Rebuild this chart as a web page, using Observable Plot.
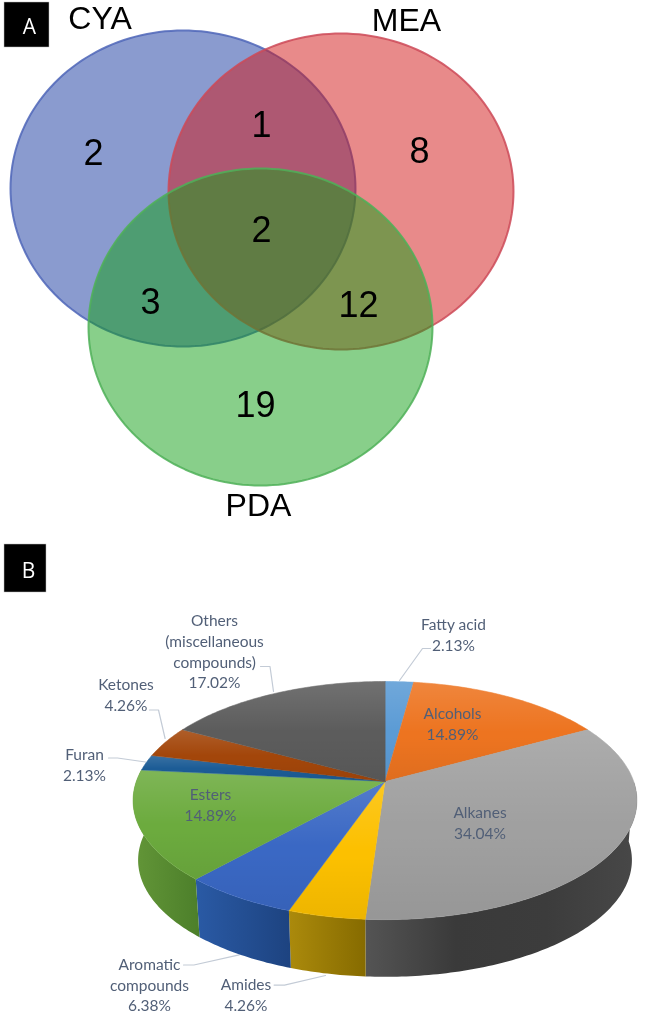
<!DOCTYPE html>
<html>
<head>
<meta charset="utf-8">
<script src="https://cdn.jsdelivr.net/npm/d3@7"></script>
<script src="https://cdn.jsdelivr.net/npm/@observablehq/plot@0.6"></script>
<style>
html,body{margin:0;padding:0;background:#fff}
#chart svg{display:block;filter:blur(0.4px)}
</style>
</head>
<body>
<div id="chart"></div>
<script>
// ---- Data ----
const vennSets = ["CYA", "MEA", "PDA"];
const vennCounts = ["2", "1", "8", "2", "3", "12", "19"];
const pieCategories = ["Fatty acid", "Alcohols", "Alkanes", "Amides", "Aromatic\ncompounds", "Esters", "Furan", "Ketones", "Others\n(miscellaneous\ncompounds)"];
const piePercents = [2.13, 14.89, 34.04, 4.26, 6.38, 14.89, 2.13, 4.26, 17.02];
const panelLetters = ["A", "B"];

// ---- Styles and layout (separate from the values) ----
const vennFill = ["#15379f", "#d11515", "#119f15"];
const vennStroke = ["#4f66b8", "#cc4a58", "#4fb058"];
const vennGeom = [[182.5, 188, 172.5, 158], [340.5, 191, 172.5, 158], [260, 326.5, 172, 158.5]];
const vennSetPos = [[99.5, 18.5], [406, 20], [258, 505]];
const vennCountPos = [[93, 153], [261, 125], [419, 151], [261, 230], [150, 302], [358, 305], [255, 405]];
const panelBox = [[4, 49, 2, 47], [4, 46, 544, 592]];
const panelPos = [[29, 27], [28, 571]];
const pieTop = ["#5b9bd5", "#ed7420", "#a0a0a0", "#fcc000", "#3a68c4", "#6cab3e", "#1c5c96", "#a3460a", "#5c5c5c"];
const pieWall = [null, null, ["#545454", "#3a3a3a", "#3c3c3c", "#484848"], ["#ab8a0c", "#866b00"], ["#2a5aa5", "#1d4380"], ["#639638", "#4c7f2a"], null, null, null];
const labelPos = [[453, 633], [452, 722.5], [479.5, 821], [245.5, 993.5], [149, 983.5], [210, 803], [84, 763], [125.5, 693], [214, 650]];
const leaders = [
  [[430, 648], [422, 648], [399, 680]],
  [[260, 666], [269.5, 666], [273, 691]],
  [[149, 709.5], [158, 709.5], [164.6, 738]],
  [[108, 757.5], [117, 757.5], [145, 761.5]],
  [[183, 964.5], [193.4, 964.5], [238.7, 954.4]],
  [[273.6, 984.6], [284, 984.6], [325, 975]]
];

// Perspective disc used for the 3D pie
const disc = {cx: 384.5, topY: 781, botY: 841, A: 248.7, B: 116, k: 0.16, s: 0.98};
const project = (pct, bottom) => {
  const t = pct / 100 * 2 * Math.PI, u = Math.sin(t), v = Math.cos(t), w = 1 + disc.k * v;
  const s = bottom ? disc.s : 1;
  return {x: disc.cx + s * disc.A * u / w, y: (bottom ? disc.botY : disc.topY) - s * disc.B * v / w};
};
const arc = (a, b, bottom) => {
  const n = Math.max(2, Math.ceil(Math.abs(b - a) * 4));
  return d3.range(n + 1).map(i => project(a + (b - a) * i / n, bottom));
};

const ellipse = ([cx, cy, rx, ry]) => d3.range(180).map(i => {
  const t = i / 180 * 2 * Math.PI;
  return {x: cx + rx * Math.cos(t), y: cy + ry * Math.sin(t)};
});

const slices = [];
piePercents.reduce((start, p, i) => { slices.push({i, start, end: start + p}); return start + p; }, 0);

const defs = () => {
  const d = d3.create("svg:defs");
  pieWall.forEach((stops, i) => {
    if (!stops) return;
    const g = d.append("linearGradient").attr("id", "wall" + i).attr("x1", 0).attr("x2", 1).attr("y1", 0).attr("y2", 0);
    stops.forEach((c, j) => g.append("stop").attr("offset", j / (stops.length - 1)).attr("stop-color", c));
  });
  const sheen = d.append("linearGradient").attr("id", "sheen").attr("x1", 0).attr("x2", 0).attr("y1", 0).attr("y2", 1);
  [[0, "#fff", 0.13], [0.5, "#fff", 0], [0.55, "#000", 0], [1, "#000", 0.06]].forEach(([o, c, a]) =>
    sheen.append("stop").attr("offset", o).attr("stop-color", c).attr("stop-opacity", a));
  return d.node();
};

// Visible wall ranges: clamp the walls to the front of the disc
const wallFrom = 25, wallTo = 76.59;
const wallMarks = slices.filter(s => pieWall[s.i]).map(s => {
  const a = Math.max(s.start, wallFrom), b = Math.min(s.end, wallTo);
  return Plot.line([...arc(a, b, false), ...arc(b, a, true)], {
    x: "x", y: "y", curve: "linear-closed", fill: `url(#wall${s.i})`, stroke: "none"
  });
});
const sector = s => [{x: disc.cx, y: disc.topY}, ...arc(s.start, s.end, false)];
const topMarks = slices.map(s => Plot.line(sector(s), {
  x: "x", y: "y", curve: "linear-closed", fill: pieTop[s.i], stroke: pieTop[s.i], strokeWidth: 0.5
}));
const sheenMarks = slices.map(s => Plot.line(sector(s), {
  x: "x", y: "y", curve: "linear-closed", fill: "url(#sheen)", stroke: "none"
}));

const vennMarks = vennSets.map((_, i) => Plot.line(ellipse(vennGeom[i]), {
  x: "x", y: "y", curve: "linear-closed", fill: vennFill[i], fillOpacity: 0.5,
  stroke: vennStroke[i], strokeWidth: 2, strokeOpacity: 0.85
}));

const sans = "'Liberation Sans', Arial, sans-serif";
const lato = "Lato, 'Noto Sans', sans-serif";
const pieLabels = pieCategories.map((c, i) => ({
  text: `${c}\n${piePercents[i].toFixed(2)}%`, x: labelPos[i][0], y: labelPos[i][1]
}));

const chart = Plot.plot({
  width: 645, height: 1015,
  margin: 0,
  x: {domain: [0, 645], range: [0, 645], axis: null},
  y: {domain: [0, 1015], range: [0, 1015], axis: null},
  style: {background: "#fff"},
  marks: [
    defs,
    ...vennMarks,
    Plot.text(vennSets, {
      x: (d, i) => vennSetPos[i][0], y: (d, i) => vennSetPos[i][1], text: d => d,
      fontFamily: sans, fontSize: 32, fill: "#000"
    }),
    Plot.text(vennCounts, {
      x: (d, i) => vennCountPos[i][0], y: (d, i) => vennCountPos[i][1], text: d => d,
      fontFamily: sans, fontSize: 36, fill: "#000"
    }),
    Plot.rect(panelLetters, {
      x1: (d, i) => panelBox[i][0], x2: (d, i) => panelBox[i][1],
      y1: (d, i) => panelBox[i][2], y2: (d, i) => panelBox[i][3],
      fill: "#000", stroke: "#bbb", strokeWidth: 0.5
    }),
    Plot.text(panelLetters, {
      x: (d, i) => panelPos[i][0], y: (d, i) => panelPos[i][1], text: d => d,
      fontFamily: "'Open Sans', sans-serif", fontSize: 21, fill: "#fff"
    }),
    ...leaders.map(l => Plot.line(l, {x: d => d[0], y: d => d[1], stroke: "#c3cbd6", strokeWidth: 1.2})),
    ...wallMarks,
    ...topMarks,
    ...sheenMarks,
    Plot.text(pieLabels, {
      x: "x", y: "y", text: "text", fontFamily: lato, fontSize: 15.5, lineHeight: 1.34,
      fill: "#515f77"
    })
  ]
});
document.getElementById("chart").appendChild(chart);
</script>
</body>
</html>
